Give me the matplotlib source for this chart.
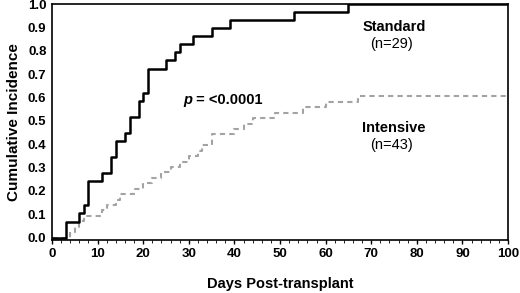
import matplotlib
matplotlib.use('Agg')
import matplotlib.pyplot as plt
import numpy as np

# step data: day of event, cumulative count of events
std_days = [0, 3, 6, 7, 8, 11, 13, 14, 16, 17, 19, 20, 21, 25, 27, 28, 31, 35, 39, 53, 65, 100]
std_count = [0, 2, 3, 4, 7, 8, 10, 12, 13, 15, 17, 18, 21, 22, 23, 24, 25, 26, 27, 28, 29, 29]
std_n = 29

int_days = [0, 4, 5, 6, 7, 11, 12, 14, 15, 18, 20, 22, 24, 26, 28, 30, 32, 33, 35, 40, 42, 44, 49, 55, 60, 67, 100]
int_count = [0, 1, 2, 3, 4, 5, 6, 7, 8, 9, 10, 11, 12, 13, 14, 15, 16, 17, 19, 20, 21, 22, 23, 24, 25, 26, 26]
int_n = 43

plt.rcParams['font.family'] = ['Liberation Sans', 'DejaVu Sans']

fig = plt.figure(figsize=(5.2, 2.93), dpi=100)
ax = fig.add_axes([0.1, 0.181, 0.877, 0.805])

ax.step(int_days, np.array(int_count) / int_n, where='post', color='#a3a3a3',
        lw=1.5, dashes=(2.5, 2))
ax.step(std_days, np.array(std_count) / std_n, where='post', color='black', lw=1.8)

ax.set_xlim(0, 100)
ax.set_ylim(-0.01, 1.0)
ax.set_xticks(np.arange(0, 101, 10))
ax.set_xticks(np.arange(0, 101, 2), minor=True)
ax.set_yticks(np.arange(0, 1.01, 0.1))
ax.set_yticklabels(['%.1f' % v for v in np.arange(0, 1.01, 0.1)])
for lab in ax.get_xticklabels() + ax.get_yticklabels():
    lab.set_fontweight('bold')
ax.tick_params(axis='both', labelsize=9.5, width=1)
ax.tick_params(axis='x', which='major', length=3, pad=3)
ax.tick_params(axis='x', which='minor', length=2)
ax.tick_params(axis='y', length=0, pad=4)
for s in ax.spines.values():
    s.set_linewidth(1.2)

ax.set_xlabel('Days Post-transplant', fontsize=10.5, fontweight='bold', labelpad=12)
ax.set_ylabel('Cumulative Incidence', fontsize=11, fontweight='bold', labelpad=5)

ax.text(75, 0.90, 'Standard', ha='center', va='center', fontsize=10.5, fontweight='bold')
ax.text(74.5, 0.83, '(n=29)', ha='center', va='center', fontsize=10.5)
ax.text(75, 0.47, 'Intensive', ha='center', va='center', fontsize=10.5, fontweight='bold')
ax.text(74.5, 0.395, '(n=43)', ha='center', va='center', fontsize=10.5)
ax.text(28.8, 0.59, 'p', ha='left', va='center', fontsize=10.5, fontweight='bold', style='italic')
ax.text(30.6, 0.59, ' = <0.0001', ha='left', va='center', fontsize=10.5, fontweight='bold')

fig.savefig('out.png', dpi=100)
